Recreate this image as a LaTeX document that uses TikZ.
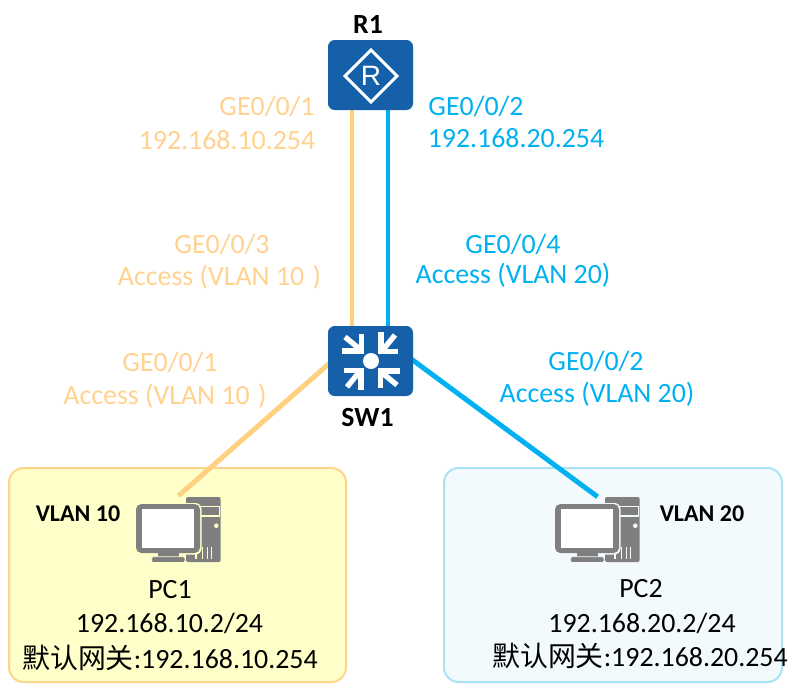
\documentclass[tikz,border=0pt]{standalone}
\usepackage{fontspec}
\setmainfont{Carlito}
\newfontfamily\cjk{Noto Sans CJK SC}
\newfontfamily\iconfont{Liberation Sans}
\usetikzlibrary{calc,backgrounds}
\definecolor{linkorange}{HTML}{FFD07F}
\definecolor{textorange}{HTML}{FFD28F}
\definecolor{linkblue}{HTML}{00B0F0}
\definecolor{devblue}{HTML}{1560A9}
\definecolor{pcgrey}{HTML}{7F7F7F}
\definecolor{yellowfill}{HTML}{FFFFC9}
\definecolor{yellowedge}{HTML}{FFD58C}
\definecolor{bluefill}{HTML}{F2FAFD}
\definecolor{blueedge}{HTML}{ABE3F6}
\tikzset{
  x=0.75pt,y=-0.75pt,
  txt/.style={inner sep=0pt,font=\fontsize{20.9}{24}\selectfont,text=black},
  orangetxt/.style={txt,text=textorange},
  bluetxt/.style={txt,text=linkblue},
  boldtxt/.style={inner sep=0pt,font=\fontsize{20.8}{24}\selectfont\bfseries},
  vlantxt/.style={inner sep=0pt,font=\fontsize{18}{20}\selectfont\bfseries},
  device/.style={fill=devblue,rounded corners=5pt,minimum width=63.75pt,minimum height=52.5pt,inner sep=0pt},
  pcframe/.style={minimum width=63.5pt,minimum height=49.5pt,inner sep=0pt},
  area/.style={rounded corners=11pt,line width=1.5pt},
  link/.style={line width=3.7pt},
  pics/routericon/.style={code={
    \draw[white,line width=2.2pt,miter limit=10] (-26,0)--(0,-26)--(26,0)--(0,26)--cycle;
    \node[text=white,inner sep=0pt,font=\iconfont\fontsize{21}{21}\selectfont] at (0,0) {R};
  }},
  pics/switchicon/.style={code={
    \fill[white] (0,0) circle (8);
    \foreach \a in {0,90,180,270}{
      \begin{scope}[rotate=\a]
        \draw[white,line width=4pt] (-29,-10)--(-9.5,-10)--(-9.5,-27);
        \draw[white,line width=4pt] (-10,-11)--(-26,-24);
      \end{scope}
    }
  }},
  pics/pcicon/.style={code={
    % origin is the top-left corner of the icon
    \fill[pcgrey,rounded corners=1.5pt] (50,0) rectangle (84.7,65);
    \draw[#1,line width=0.9pt] (64,9.7) rectangle (83.3,19);
    \fill[#1] (80.3,28.7) circle (2.3);
    \foreach \sx in {60,66.7,71.3,75.7} \draw[#1,line width=0.9pt] (\sx,49.7)--(\sx,62.3);
    \fill[#1,rounded corners=4.5pt] (-1,6) rectangle (65.5,57.5);
    \fill[pcgrey,rounded corners=4pt] (0,7) rectangle (64,56);
    \fill[white] (5.7,12.3) rectangle (58.3,51.3);
    \fill[pcgrey] (21.7,56) rectangle (43.3,59.5);
    \fill[pcgrey,rounded corners=1pt,draw=#1,line width=0.5pt] (15.7,59.7) rectangle (49,65.5);
  }}
}
\begin{document}
\begin{tikzpicture}
\useasboundingbox (0,0) rectangle (799,687);
% devices
\node[device] (r1) at (370.5,75) {};
\node[device] (sw1) at (370.5,361) {};
\node[pcframe] (pc1) at (178.5,530) {};
\node[pcframe] (pc2) at (597.5,530) {};
\pic at (371,76) {routericon};
\pic at (371,361) {switchicon};
% areas and links beneath the devices
\begin{scope}[on background layer]
  \node[area,draw=yellowedge,fill=yellowfill,minimum width=252.75pt,minimum height=160.5pt,inner sep=0pt] (vlan10area) at (177.5,575) {};
  \node[area,draw=blueedge,fill=bluefill,minimum width=253.5pt,minimum height=160.5pt,inner sep=0pt] (vlan20area) at (613,575) {};
  \draw[link,linkorange] ($(r1.south)+(-18.5,0)$) -- ($(sw1.north)+(-18.5,0)$);
  \draw[link,linkblue] ($(r1.south)+(17.5,0)$) -- ($(sw1.north)+(17.5,0)$);
  \draw[link,linkorange,line cap=butt] ($(sw1.west)+(2,2)$) -- ($(pc1.north)+(0,-1)$);
  \draw[link,linkblue] ($(sw1.east)+(-2,-2)$) -- ($(pc2.north)+(0,0)$);
\end{scope}
\pic at (136,497) {pcicon={yellowfill}};
\pic at (555,497) {pcicon={bluefill}};
% labels
\node[boldtxt] (lr1) at (368,24) {R1};
\node[boldtxt] (lsw1) at (367.5,417) {SW1};
\node[orangetxt] (t1) at (267,106) {GE0/0/1};
\node[orangetxt] (t2) at (227,140) {192.168.10.254};
\node[bluetxt] (t3) at (476,106) {GE0/0/2};
\node[bluetxt] (t4) at (516,138) {192.168.20.254};
\node[orangetxt] (t5) at (220,244) {\makebox[0pt]{\hspace{3pt}GE0/0/3}};
\node[orangetxt] (t6) at (219.5,277) {Access (VLAN 10 \kern 1.5pt)};
\node[bluetxt] (t7) at (513,244) {GE0/0/4};
\node[bluetxt] (t8) at (513,275) {Access (VLAN 20)};
\node[orangetxt] (t9) at (170,362) {GE0/0/1};
\node[orangetxt] (t10) at (165,396) {Access (VLAN 10 \kern 1.5pt)};
\node[bluetxt] (t11) at (596,361) {GE0/0/2};
\node[bluetxt] (t12) at (597,394) {Access (VLAN 20)};
\node[vlantxt] (v10) at (78,514) {VLAN 10};
\node[vlantxt] (v20) at (702,514) {VLAN 20};
\node[txt] (p1a) at (170,590) {PC1};
\node[txt] (p1b) at (169.5,623) {192.168.10.2/24};
\node[txt] (p1c) at (170,658) {{\cjk 默认网关}:192.168.10.254};
\node[txt] (p2a) at (641,589) {PC2};
\node[txt] (p2b) at (642,623) {192.168.20.2/24};
\node[txt] (p2c) at (640,656) {{\cjk 默认网关}:192.168.20.254};
\end{tikzpicture}
\end{document}
